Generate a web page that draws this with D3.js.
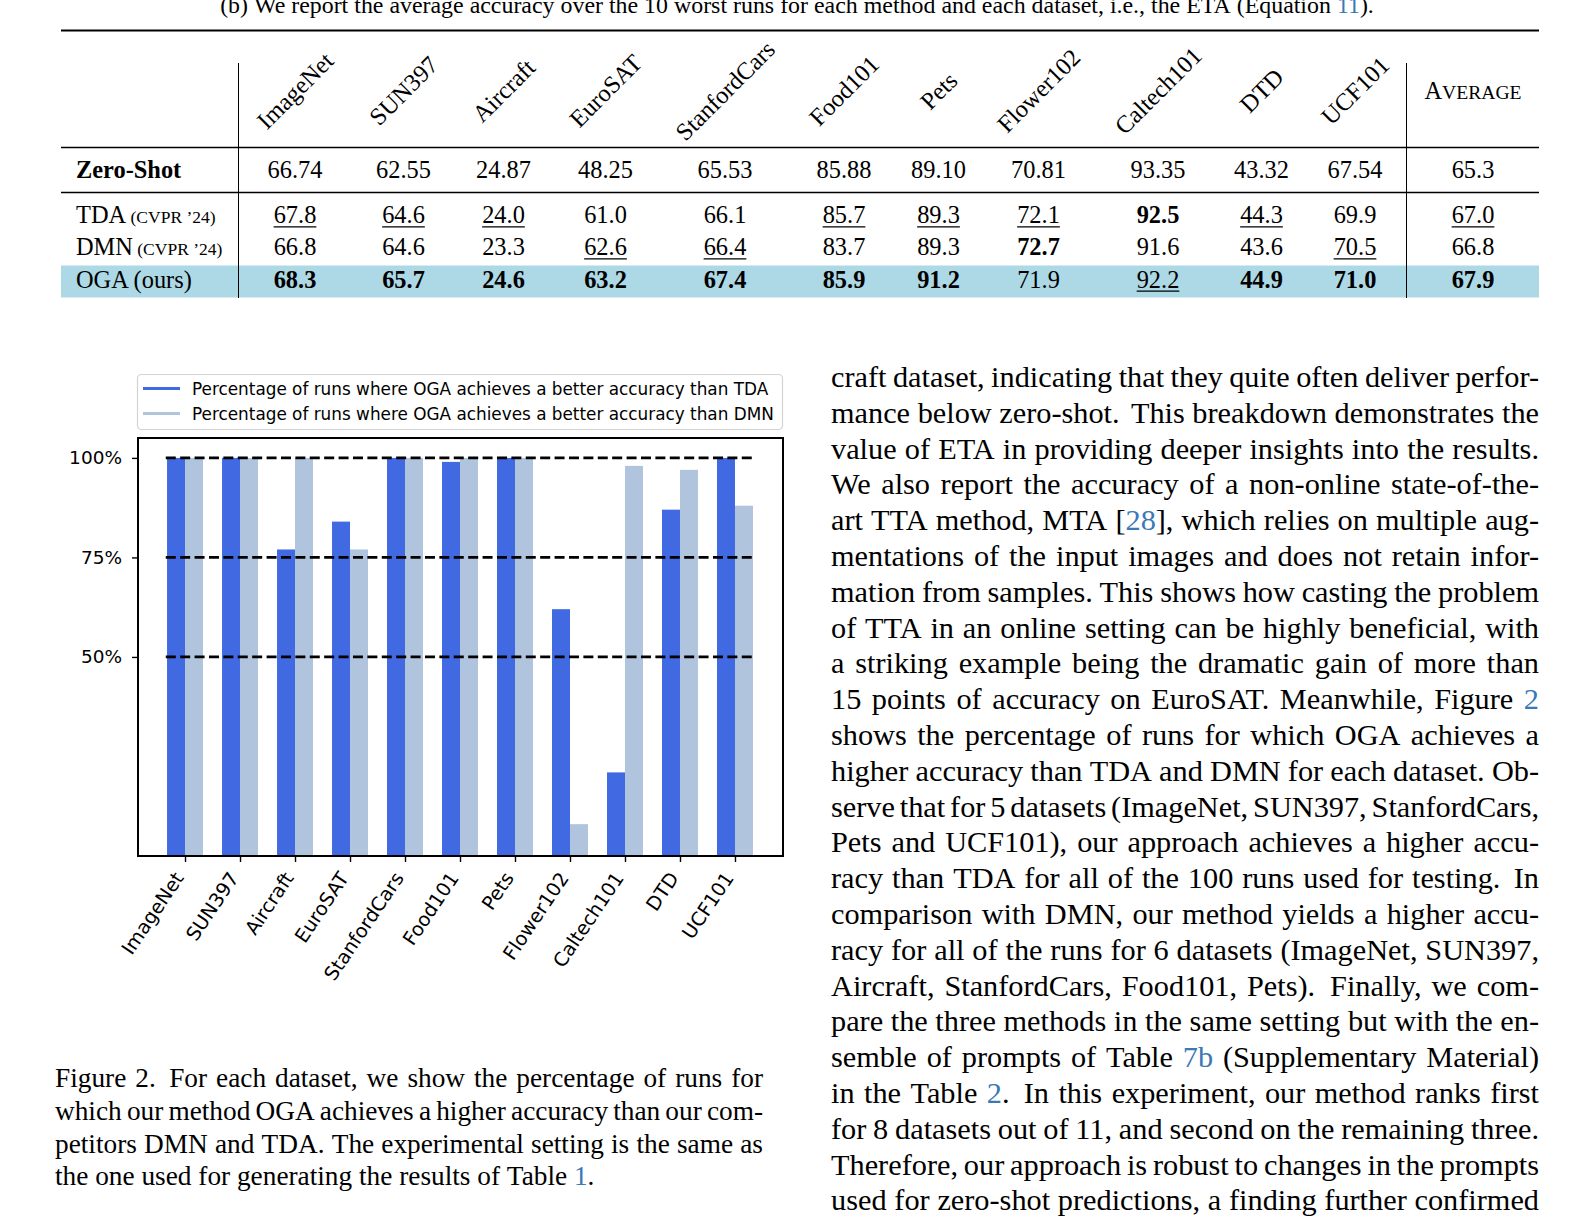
<!DOCTYPE html>
<html><head><meta charset="utf-8">
<script src="https://cdn.jsdelivr.net/npm/d3@7"></script>
<style>body{margin:0;background:#fff}svg{display:block}</style>
</head><body>
<svg id="c" width="1595" height="1221"></svg>
<script>
// ---------------- DATA ----------------
const datasets = ["ImageNet","SUN397","Aircraft","EuroSAT","StanfordCars","Food101","Pets","Flower102","Caltech101","DTD","UCF101"];
const pctVsTDA = [100,100,77,84,100,99,100,62,21,87,100];
const pctVsDMN = [100,100,100,77,100,100,100,8,98,97,88];
const yTickValues = [50,75,100];
const seriesNames = ["Percentage of runs where OGA achieves a better accuracy than TDA",
                     "Percentage of runs where OGA achieves a better accuracy than DMN"];
const seriesColors = ["#4169E1","#B0C4DE"];

const averageHeader = "Average";
const zeroShotVals = ["66.74","62.55","24.87","48.25","65.53","85.88","89.10","70.81","93.35","43.32","67.54","65.3"];
const tdaVals  = ["67.8","64.6","24.0","61.0","66.1","85.7","89.3","72.1","92.5","44.3","69.9","67.0"];
const tdaMarks = ["u","u","u","","","u","u","u","b","u","","u"];
const dmnVals  = ["66.8","64.6","23.3","62.6","66.4","83.7","89.3","72.7","91.6","43.6","70.5","66.8"];
const dmnMarks = ["","","","u","u","","","b","","","u",""];
const ogaVals  = ["68.3","65.7","24.6","63.2","67.4","85.9","91.2","71.9","92.2","44.9","71.0","67.9"];
const ogaMarks = ["b","b","b","b","b","b","b","","u","b","b","b"];

const tableCaption = "(b) We report the average accuracy over the 10 worst runs for each method and each dataset, i.e., the ETA (Equation {11}).";
const figCaption = [
 "Figure 2.  For each dataset, we show the percentage of runs for",
 "which our method OGA achieves a higher accuracy than our com-",
 "petitors DMN and TDA. The experimental setting is the same as",
 "the one used for generating the results of Table {1}."
];
const bodyText = [
 "craft dataset, indicating that they quite often deliver perfor-",
 "mance below zero-shot.  This breakdown demonstrates the",
 "value of ETA in providing deeper insights into the results.",
 "We also report the accuracy of a non-online state-of-the-",
 "art TTA method, MTA [{28}], which relies on multiple aug-",
 "mentations of the input images and does not retain infor-",
 "mation from samples. This shows how casting the problem",
 "of TTA in an online setting can be highly beneficial, with",
 "a striking example being the dramatic gain of more than",
 "15 points of accuracy on EuroSAT. Meanwhile, Figure {2}",
 "shows the percentage of runs for which OGA achieves a",
 "higher accuracy than TDA and DMN for each dataset. Ob-",
 "serve that for 5 datasets (ImageNet, SUN397, StanfordCars,",
 "Pets and UCF101), our approach achieves a higher accu-",
 "racy than TDA for all of the 100 runs used for testing.  In",
 "comparison with DMN, our method yields a higher accu-",
 "racy for all of the runs for 6 datasets (ImageNet, SUN397,",
 "Aircraft, StanfordCars, Food101, Pets).  Finally, we com-",
 "pare the three methods in the same setting but with the en-",
 "semble of prompts of Table {7b} (Supplementary Material)",
 "in the Table {2}.  In this experiment, our method ranks first",
 "for 8 datasets out of 11, and second on the remaining three.",
 "Therefore, our approach is robust to changes in the prompts",
 "used for zero-shot predictions, a finding further confirmed"
];

// ---------------- HELPERS ----------------
const SERIF = "'Liberation Serif','Times New Roman',serif";
const SANS = "'DejaVu Sans',sans-serif";
const LINK = "#3b78b6";
const svg = d3.select("#c");
svg.append("rect").attr("width",1595).attr("height",1221).attr("fill","#fff");
const meas = svg.append("text").attr("visibility","hidden").attr("x",-1000).attr("y",-1000);
function measure(str, size, family, weight){
  meas.attr("font-size",size).attr("font-family",family).attr("font-weight",weight||"normal").text(str);
  return meas.node().getComputedTextLength();
}
function parseSegs(word){
  const segs=[]; const re=/\{([^}]*)\}|([^{]+)/g; let m;
  while((m=re.exec(word))){ if(m[1]!==undefined) segs.push({t:m[1],link:true}); else segs.push({t:m[2],link:false}); }
  return segs;
}
function drawLine(g, str, x, y, width, size, mode){
  const tokens = str.split(" ");
  const words=[], weights=[]; let extra=false;
  tokens.forEach(tk=>{ if(tk===""){extra=true;return;} if(words.length) weights.push(extra?1.5:1); extra=false; words.push(tk); });
  const widths = words.map(w=>measure(w.replace(/[{}]/g,""), size, SERIF));
  const total = d3.sum(widths), wsum = d3.sum(weights);
  let gap = 0.25*size, cx = x;
  if(mode==="justify") gap = (width-total)/wsum;
  if(mode==="center") cx = x - (total + gap*wsum)/2;
  const t = g.append("text").attr("y",y).attr("font-family",SERIF).attr("font-size",size).attr("fill","#000");
  words.forEach((w,i)=>{
    parseSegs(w).forEach((s,j)=>{
      const ts=t.append("tspan").text(s.t).attr("fill", s.link?LINK:"#000");
      if(j===0) ts.attr("x",cx);
    });
    cx += widths[i] + (i<weights.length ? gap*weights[i] : 0);
  });
}

// ---------------- TABLE ----------------
const T = svg.append("g");
drawLine(T, tableCaption, 797, 12.5, 0, 23.9, "center");
const colX = d3.scaleOrdinal().domain(d3.range(12))
  .range([295,403.5,503.5,605.5,725,844,938.5,1038.5,1158,1261.5,1355,1473]);
const TL = 61, TR = 1539;
T.append("rect").attr("x",TL).attr("y",265.5).attr("width",TR-TL).attr("height",32).attr("fill","#ADD8E6");
T.append("line").attr("x1",TL).attr("x2",TR).attr("y1",30.5).attr("y2",30.5).attr("stroke","#000").attr("stroke-width",2.2);
[147.5,192.5].forEach(yy=>T.append("line").attr("x1",TL).attr("x2",TR).attr("y1",yy).attr("y2",yy).attr("stroke","#000").attr("stroke-width",1.4));
[238.5,1406.5].forEach(xx=>T.append("line").attr("x1",xx).attr("x2",xx).attr("y1",63).attr("y2",298).attr("stroke","#000").attr("stroke-width",1));
// header
datasets.forEach((d,i)=>{
  T.append("text").attr("font-family",SERIF).attr("font-size",24.4).attr("text-anchor","middle")
   .attr("dy","0.35em").attr("transform",`translate(${colX(i)},90.5) rotate(-45)`).text(d);
});
const avg = T.append("text").attr("font-family",SERIF).attr("x",colX(11)).attr("y",99).attr("text-anchor","middle");
avg.append("tspan").attr("font-size",24.4).text(averageHeader[0]);
avg.append("tspan").attr("font-size",19.6).text(averageHeader.slice(1).toUpperCase());
// rows
const FS = 24.4;
function rowLabel(y, main, small, bold){
  const t = T.append("text").attr("x",76).attr("y",y).attr("font-family",SERIF).attr("font-size",FS).attr("font-weight",bold?"bold":"normal");
  t.append("tspan").text(main);
  if(small) t.append("tspan").attr("font-size",17.5).text(" "+small);
}
rowLabel(178.3,"Zero-Shot",null,true);
rowLabel(223.3,"TDA","(CVPR \u201924)");
rowLabel(255.3,"DMN","(CVPR \u201924)");
rowLabel(287.5,"OGA (ours)");
function rowVals(y, vals, marks){
  vals.forEach((v,i)=>{
    const b = marks && marks[i]==="b";
    T.append("text").attr("x",colX(i)).attr("y",y).attr("text-anchor","middle").attr("font-family",SERIF)
     .attr("font-size",FS).attr("font-weight",b?"bold":"normal").text(v);
    if(marks && marks[i]==="u"){
      const w = measure(v, FS, SERIF);
      T.append("line").attr("x1",colX(i)-w/2).attr("x2",colX(i)+w/2).attr("y1",y+3.6).attr("y2",y+3.6).attr("stroke","#000").attr("stroke-width",1.1);
    }
  });
}
rowVals(178.3, zeroShotVals, null);
rowVals(223.3, tdaVals, tdaMarks);
rowVals(255.3, dmnVals, dmnMarks);
rowVals(287.5, ogaVals, ogaMarks);

// ---------------- CHART ----------------
const C = svg.append("g");
const x = d3.scaleLinear().domain([-0.855,10.873]).range([138,783]);
const y = d3.scaleLinear().domain([0,105]).range([856,438]);
const bw = 0.327;
C.selectAll(".b0").data(pctVsTDA).join("rect").attr("fill",seriesColors[0])
  .attr("x",(d,i)=>x(i-bw)).attr("width",(d,i)=>x(i)-x(i-bw)).attr("y",d=>y(d)).attr("height",d=>y(0)-y(d));
C.selectAll(".b1").data(pctVsDMN).join("rect").attr("fill",seriesColors[1])
  .attr("x",(d,i)=>x(i)).attr("width",(d,i)=>x(i+bw)-x(i)).attr("y",d=>y(d)).attr("height",d=>y(0)-y(d));
C.selectAll(".hl").data(yTickValues).join("line")
  .attr("x1",x(-0.35)).attr("x2",x(10.35)).attr("y1",d=>y(d)).attr("y2",d=>y(d))
  .attr("stroke","#000").attr("stroke-width",2.7).attr("stroke-dasharray","10,4.4");
// axes
const ya = C.append("g").attr("transform",`translate(${x.range()[0]},0)`)
  .call(d3.axisLeft(y).tickValues(yTickValues).tickFormat(d=>d+"%").tickSize(6).tickPadding(10));
ya.select(".domain").remove();
ya.selectAll("text").attr("font-family",SANS).attr("font-size",18.5).attr("fill","#000");
ya.selectAll("line").attr("stroke","#000").attr("stroke-width",1.4);
const xa = C.append("g").attr("transform",`translate(0,${y(0)})`)
  .call(d3.axisBottom(x).tickValues(d3.range(datasets.length)).tickFormat(i=>datasets[i]).tickSize(6));
xa.select(".domain").remove();
xa.selectAll("line").attr("stroke","#000").attr("stroke-width",1.4);
xa.selectAll("text").attr("font-family",SANS).attr("font-size",19.3).attr("fill","#000")
  .attr("x",0).attr("y",0).attr("dy",0).attr("text-anchor","end")
  .attr("transform","translate(-1,22) rotate(-56)");
// frame
C.append("rect").attr("x",138).attr("y",438).attr("width",645).attr("height",418)
  .attr("fill","none").attr("stroke","#000").attr("stroke-width",2);
// legend
const L = C.append("g");
L.append("rect").attr("x",137.5).attr("y",374.5).attr("width",645).attr("height",55).attr("rx",4)
  .attr("fill","#fff").attr("stroke","#d3d3d3").attr("stroke-width",1.2);
seriesNames.forEach((s,i)=>{
  const yy = 388.5 + i*25;
  L.append("line").attr("x1",143).attr("x2",180).attr("y1",yy).attr("y2",yy).attr("stroke",seriesColors[i]).attr("stroke-width",3);
  L.append("text").attr("x",192).attr("y",yy).attr("dy","0.36em").attr("font-family",SANS).attr("font-size",16.85).attr("fill","#000").text(s);
});

// ---------------- CAPTION & BODY ----------------
const P = svg.append("g");
figCaption.forEach((ln,i)=>drawLine(P, ln, 55, 1087 + i*32.8, 708, 27.3, i<figCaption.length-1?"justify":"left"));
bodyText.forEach((ln,i)=>drawLine(P, ln, 831, 387 + i*35.8, 708, 30.3, "justify"));
meas.remove();
</script>
</body></html>
